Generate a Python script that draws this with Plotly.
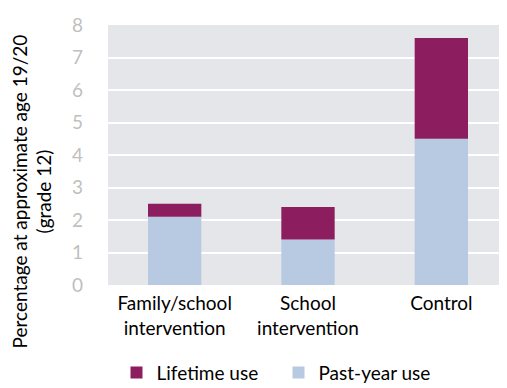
import plotly.graph_objects as go

categories = ["Family/school<br>intervention", "School<br>intervention", "Control"]
lifetime_use = [2.5, 2.4, 7.6]
past_year_use = [2.1, 1.4, 4.5]
y_ticks = [0, 1, 2, 3, 4, 5, 6, 7, 8]

FONT = "Lato"
lifetime_extra = [round(l - p, 3) for l, p in zip(lifetime_use, past_year_use)]

fig = go.Figure()
fig.add_trace(go.Bar(x=categories, y=past_year_use, name="Past-year use", legendrank=2,
                     marker=dict(color="#B7CAE1", line=dict(width=0)), width=0.4))
fig.add_trace(go.Bar(x=categories, y=lifetime_extra, base=past_year_use, name="Lifetime use",
                     legendrank=1, customdata=lifetime_use,
                     hovertemplate="%{customdata}<extra>Lifetime use</extra>",
                     marker=dict(color="#8C1D5F", line=dict(width=0)), width=0.4))

fig.update_layout(
    width=507, height=388,
    margin=dict(l=100, r=7, t=17, b=111, autoexpand=False),
    barmode="overlay",
    paper_bgcolor="white",
    plot_bgcolor="#E4E6E9",
    font=dict(family=FONT, size=19, color="#000000"),
    showlegend=True,
    legend=dict(orientation="h", x=0.214, xanchor="left", xref="container",
                y=0.06, yanchor="middle", yref="container",
                font=dict(size=19, family=FONT), traceorder="normal",
                itemwidth=30, entrywidth=117),
    xaxis=dict(showgrid=False, zeroline=False, showline=False, ticks="", automargin=False,
               ticklabelstandoff=5,
               tickfont=dict(size=19, family=FONT, color="#000000")),
    yaxis=dict(range=[0, 8], tickvals=y_ticks, showgrid=True, gridcolor="white", gridwidth=2,
               zeroline=False, showline=False, ticks="", automargin=False,
               tickfont=dict(size=19, family=FONT, color="#BFBFBF"), ticklabelstandoff=24),
    annotations=[dict(text="Percentage at approximate age 19/20<br>(grade 12)",
                      xref="paper", yref="paper", x=-0.19, y=0.36,
                      xanchor="center", yanchor="middle", textangle=-90, showarrow=False,
                      font=dict(size=19, family=FONT, color="#000000"))],
)
fig.write_html("out.html")
